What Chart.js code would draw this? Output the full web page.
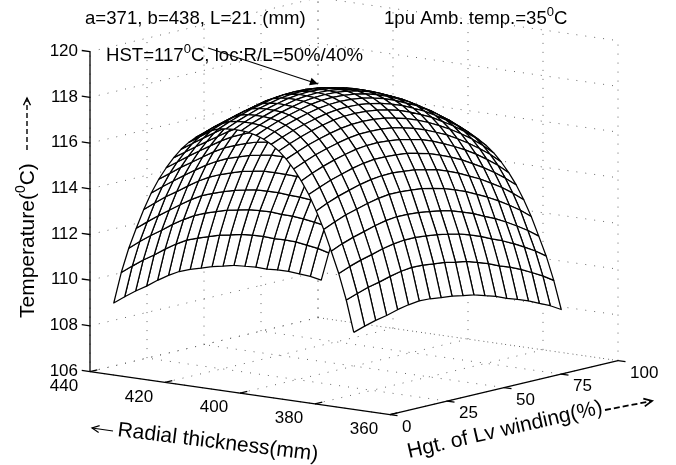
<!DOCTYPE html>
<html><head><meta charset="utf-8">
<style>html,body{margin:0;padding:0;background:#fff}canvas{display:block}</style>
<script src="https://cdn.jsdelivr.net/npm/chart.js@4/dist/chart.umd.js"></script>
</head><body><canvas id="c" width="676" height="465"></canvas>
<script>
// Axis ticks
const radialTicks=[440,420,400,380,360];
const heightTicks=[0,25,50,75,100];
const tempTicks=[106,108,110,112,114,116,118,120];
// Mesh coordinates
const radialGrid=[372.4,374.4,376.4,378.4,380.4,382.4,384.4,386.4,388.4,390.4,392.4,394.4,396.4,398.4,400.4,402.4,404.4,406.4,408.4,410.4,412.4,414.4,416.4,418.4,420.4,422.4,424.4,426.4,428.4,430.4,432.4,434.4,436.4];
const heightGrid=[4.5,9.3,14.1,18.9,23.7,28.5,33.2,38,42.8,47.6,52.4,57.2,62,66.8,71.6,76.3,81.1,85.9,90.7,95.5];
// Temperature along radial thickness, one list per winding height
const t00=[109.20,110.57,111.68,112.61,113.51,114.28,114.95,115.50,115.97,116.36,116.67,116.91,117.09,117.21,117.29,117.32,117.33,117.31,117.26,117.14,116.98,116.76,116.48,116.14,115.72,115.23,114.68,114.03,113.26,112.39,111.47,110.36,108.98];
const t01=[109.36,110.74,111.88,112.82,113.73,114.50,115.16,115.72,116.18,116.56,116.87,117.11,117.30,117.42,117.50,117.53,117.54,117.52,117.46,117.33,117.15,116.91,116.62,116.27,115.84,115.37,114.82,114.19,113.43,112.56,111.65,110.53,109.14];
const t02=[109.50,110.90,112.04,112.99,113.92,114.69,115.35,115.91,116.37,116.75,117.05,117.29,117.47,117.60,117.68,117.71,117.72,117.70,117.63,117.49,117.29,117.06,116.75,116.39,115.97,115.50,114.97,114.33,113.59,112.71,111.80,110.68,109.28];
const t03=[109.60,111.01,112.17,113.13,114.06,114.84,115.50,116.07,116.52,116.90,117.21,117.44,117.63,117.76,117.84,117.87,117.88,117.86,117.79,117.64,117.43,117.19,116.88,116.51,116.08,115.62,115.08,114.46,113.70,112.84,111.92,110.79,109.38];
const t04=[109.74,111.15,112.31,113.27,114.20,114.98,115.64,116.20,116.65,117.03,117.34,117.57,117.76,117.89,117.97,118.00,118.01,117.98,117.91,117.76,117.55,117.30,116.99,116.62,116.19,115.73,115.20,114.58,113.83,112.97,112.06,110.93,109.52];
const t05=[109.84,111.26,112.41,113.38,114.31,115.08,115.75,116.31,116.76,117.14,117.45,117.68,117.87,118.00,118.08,118.11,118.12,118.09,118.02,117.87,117.66,117.41,117.10,116.73,116.30,115.84,115.31,114.68,113.94,113.08,112.16,111.04,109.62];
const t06=[109.90,111.32,112.47,113.44,114.37,115.14,115.81,116.37,116.82,117.20,117.51,117.74,117.93,118.06,118.14,118.17,118.18,118.15,118.08,117.93,117.72,117.47,117.16,116.79,116.36,115.90,115.37,114.74,114.00,113.14,112.22,111.10,109.68];
const t07=[109.88,111.30,112.47,113.43,114.37,115.15,115.81,116.38,116.83,117.22,117.52,117.76,117.95,118.08,118.16,118.19,118.20,118.17,118.10,117.95,117.74,117.49,117.17,116.81,116.37,115.91,115.37,114.75,114.00,113.13,112.22,111.08,109.66];
const t08=[109.82,111.25,112.42,113.39,114.33,115.11,115.78,116.35,116.81,117.19,117.50,117.74,117.93,118.06,118.14,118.17,118.18,118.15,118.08,117.93,117.72,117.47,117.15,116.78,116.35,115.89,115.34,114.71,113.96,113.09,112.17,111.03,109.60];
const t09=[109.77,111.20,112.37,113.33,114.28,115.06,115.73,116.29,116.75,117.13,117.44,117.68,117.87,118.00,118.08,118.11,118.12,118.09,118.02,117.87,117.66,117.41,117.09,116.72,116.29,115.83,115.29,114.66,113.91,113.03,112.12,110.98,109.55];
const t10=[109.68,111.10,112.27,113.24,114.18,114.95,115.62,116.18,116.64,117.02,117.33,117.57,117.76,117.89,117.97,118.00,118.01,117.98,117.91,117.76,117.55,117.30,116.98,116.61,116.18,115.72,115.18,114.55,113.81,112.94,112.02,110.88,109.46];
const t11=[109.60,111.01,112.17,113.13,114.06,114.84,115.50,116.06,116.51,116.89,117.20,117.43,117.62,117.75,117.83,117.86,117.87,117.84,117.77,117.62,117.41,117.16,116.85,116.48,116.05,115.59,115.06,114.44,113.69,112.83,111.92,110.79,109.38];
const t12=[109.45,110.86,112.01,112.96,113.89,114.66,115.32,115.88,116.33,116.71,117.01,117.25,117.43,117.56,117.64,117.67,117.68,117.65,117.58,117.43,117.22,116.98,116.66,116.30,115.87,115.41,114.88,114.26,113.52,112.66,111.76,110.64,109.23];
const t13=[109.30,110.69,111.84,112.78,113.70,114.46,115.12,115.66,116.11,116.49,116.79,117.02,117.20,117.33,117.41,117.44,117.45,117.42,117.35,117.20,116.99,116.75,116.44,116.08,115.65,115.20,114.68,114.06,113.33,112.48,111.59,110.47,109.08];
const t14=[109.10,110.48,111.61,112.55,113.47,114.22,114.88,115.42,115.88,116.24,116.55,116.78,116.97,117.09,117.17,117.20,117.21,117.18,117.12,116.97,116.78,116.53,116.23,115.87,115.46,114.99,114.47,113.85,113.12,112.26,111.37,110.26,108.88];
const t15=[108.95,110.31,111.42,112.34,113.23,113.98,114.61,115.16,115.60,115.97,116.26,116.49,116.67,116.79,116.87,116.90,116.91,116.89,116.82,116.68,116.49,116.26,115.96,115.61,115.20,114.75,114.23,113.62,112.90,112.06,111.18,110.09,108.73];
const t16=[108.77,110.10,111.18,112.08,112.96,113.69,114.32,114.86,115.29,115.66,115.95,116.17,116.35,116.47,116.54,116.57,116.58,116.56,116.50,116.37,116.19,115.97,115.68,115.34,114.93,114.49,113.97,113.37,112.65,111.82,110.95,109.89,108.55];
const t17=[108.55,109.85,110.91,111.79,112.65,113.38,113.99,114.52,114.95,115.32,115.60,115.82,115.99,116.11,116.18,116.21,116.22,116.20,116.15,116.03,115.85,115.64,115.36,115.04,114.63,114.19,113.68,113.08,112.37,111.54,110.69,109.64,108.33];
const t18=[108.33,109.59,110.63,111.48,112.32,113.02,113.63,114.15,114.57,114.92,115.21,115.42,115.59,115.70,115.77,115.80,115.81,115.79,115.74,115.63,115.47,115.27,115.00,114.68,114.29,113.86,113.35,112.76,112.06,111.25,110.42,109.38,108.11];
const t19=[108.05,109.28,110.29,111.12,111.93,112.62,113.22,113.71,114.13,114.48,114.76,114.97,115.13,115.25,115.31,115.34,115.35,115.33,115.28,115.18,115.02,114.82,114.57,114.26,113.87,113.44,112.95,112.37,111.68,110.89,110.08,109.07,107.83];
const surface=[t00,t01,t02,t03,t04,t05,t06,t07,t08,t09,t10,t11,t12,t13,t14,t15,t16,t17,t18,t19];

// Orthographic view of the 3-D box onto the flat chart scales
const project=(r,h,t)=>({
  x:390-3.75*(r-360)+2.28*h,
  y:414.6-0.5375*(r-360)-0.54*h-22.85*(t-106)
});
const depth=(r,h,t)=>-0.0125*r/80-0.01645*h/100+0.00446*t/14;

const line=(pts,extra)=>Object.assign({showLine:true,pointRadius:0,pointHoverRadius:0,tension:0,
  borderColor:'#000',borderWidth:1.2,fill:false,data:pts},extra);

const datasets=[];
// Surface: nearest cell first, because Chart.js paints the first dataset last
const cells=[];
for(let j=0;j<heightGrid.length-1;j++){
  for(let i=0;i<radialGrid.length-1;i++){
    const c=[[i,j],[i+1,j],[i+1,j+1],[i,j+1],[i,j]].map(([a,b])=>[radialGrid[a],heightGrid[b],surface[b][a]]);
    const d=c.slice(0,4).reduce((s,p)=>s+depth(p[0],p[1],p[2]),0)/4;
    cells.push({d,pts:c.map(p=>project(p[0],p[1],p[2]))});
  }
}
cells.sort((a,b)=>b.d-a.d);
cells.forEach(c=>datasets.push(line(c.pts,{isCell:true,borderWidth:1.25,borderJoinStyle:'round'})));

// Axis lines and ticks
const rMin=360,rMax=440,hMin=0,hMax=100,tMin=106,tMax=120;
const axisStyle={borderWidth:1.3};
datasets.push(line([project(rMax,hMin,tMin),project(rMax,hMin,tMax)],axisStyle));
datasets.push(line([project(rMax,hMin,tMin),project(rMin,hMin,tMin)],axisStyle));
datasets.push(line([project(rMin,hMin,tMin),project(rMin,hMax,tMin)],axisStyle));
tempTicks.forEach(t=>datasets.push(line([project(rMax,hMin,t),project(rMax+2.2,hMin,t)],axisStyle)));
radialTicks.forEach(r=>datasets.push(line([project(r,hMin,tMin),project(r,hMin+3.2,tMin)],axisStyle)));
heightTicks.forEach(h=>datasets.push(line([project(rMin,h,tMin),project(rMin-2,h,tMin)],axisStyle)));

// Dotted box grid
const dot={borderColor:'#666',borderWidth:1,borderDash:[1,8]};
radialTicks.forEach(r=>{
  datasets.push(line([project(r,hMin,tMin),project(r,hMax,tMin)],dot));
  datasets.push(line([project(r,hMax,tMin),project(r,hMax,tMax)],dot));
});
heightTicks.forEach(h=>{
  datasets.push(line([project(rMin,h,tMin),project(rMax,h,tMin)],dot));
  datasets.push(line([project(rMax,h,tMin),project(rMax,h,tMax)],dot));
});
tempTicks.forEach(t=>{
  datasets.push(line([project(rMax,hMin,t),project(rMax,hMax,t)],dot));
  datasets.push(line([project(rMax,hMax,t),project(rMin,hMax,t)],dot));
});

const FONT='"Liberation Sans", Arial, sans-serif';
function arrowHead(ctx,x0,y0,x1,y1,size,solid){
  const a=Math.atan2(y1-y0,x1-x0);
  ctx.beginPath();
  ctx.moveTo(x1-size*Math.cos(a-0.45),y1-size*Math.sin(a-0.45));
  ctx.lineTo(x1,y1);
  ctx.lineTo(x1-size*Math.cos(a+0.45),y1-size*Math.sin(a+0.45));
  if(solid){ctx.closePath();ctx.fill();}else ctx.stroke();
}
function arrow(ctx,x0,y0,x1,y1,size,width,dash,solid){
  ctx.save();ctx.strokeStyle='#000';ctx.fillStyle='#000';ctx.lineWidth=width;
  ctx.setLineDash(dash||[]);
  ctx.beginPath();ctx.moveTo(x0,y0);ctx.lineTo(x1,y1);ctx.stroke();
  ctx.setLineDash([]);arrowHead(ctx,x0,y0,x1,y1,size,solid);ctx.restore();
}
// Text runs with a raised degree mark
function runs(ctx,x,y,parts,size){
  let cx=x;
  parts.forEach(p=>{
    const sup=p[0]==='^';const s=sup?p.slice(1):p;
    ctx.font=(sup?Math.round(size*0.68):size)+'px '+FONT;
    ctx.fillText(s,cx,sup?y-size*0.42:y);
    cx+=ctx.measureText(s).width;
  });
}
const cellFill={id:'cellFill',beforeDatasetDraw(chart,args){
  const ds=chart.data.datasets[args.index];
  if(!ds.isCell)return;
  const ctx=chart.ctx,pts=args.meta.data;
  ctx.save();ctx.fillStyle='#fff';ctx.beginPath();
  pts.forEach((p,i)=>i?ctx.lineTo(p.x,p.y):ctx.moveTo(p.x,p.y));
  ctx.closePath();ctx.fill();ctx.restore();
}};
const labels={id:'labels',afterDraw(chart){
  const ctx=chart.ctx;ctx.save();ctx.fillStyle='#000';
  const S=17,T=18.6,big=21;
  ctx.font=S+'px '+FONT;ctx.textBaseline='middle';
  ctx.textAlign='right';
  tempTicks.forEach(t=>{const p=project(rMax,hMin,t);ctx.fillText(String(t),78,p.y-0.5);});
  ctx.textAlign='center';
  radialTicks.forEach(r=>{const p=project(r,hMin,tMin);ctx.fillText(String(r),p.x-26,p.y+14.5);});
  ctx.textAlign='left';
  heightTicks.forEach(h=>{const p=project(rMin,h,tMin);ctx.fillText(String(h),p.x+12,p.y+12.5);});
  ctx.textBaseline='alphabetic';
  runs(ctx,85,24,['a=371, b=438, L=21. (mm)'],T);
  runs(ctx,384,24,['1pu Amb. temp.=35','^0','C'],T);
  runs(ctx,106,60.5,['HST=117','^0','C, loc:R/L=50%/40%'],T);
  ctx.save();ctx.translate(34,318);ctx.rotate(-Math.PI/2);runs(ctx,0,0,['Temperature(','^0','C)'],big);ctx.restore();
  ctx.save();ctx.translate(117,436);ctx.rotate(7*Math.PI/180);runs(ctx,0,0,['Radial thickness(mm)'],big);ctx.restore();
  ctx.save();ctx.translate(409,458);ctx.rotate(-13*Math.PI/180);runs(ctx,0,0,['Hgt. of Lv winding(%)'],big);ctx.restore();
  arrow(ctx,208,48,318,84,9,1.1,null,true);
  arrow(ctx,27,150,27,98,8,1.4,[5,3],false);
  arrow(ctx,113,431,92,428,8,1.2,null,false);
  arrow(ctx,605,410,652,401,9,1.8,[6,3],false);
  ctx.restore();
}};
new Chart(document.getElementById('c'),{
  type:'scatter',
  data:{datasets},
  plugins:[cellFill,labels],
  options:{
    responsive:false,animation:false,events:[],clip:false,
    layout:{padding:0},
    plugins:{legend:{display:false},tooltip:{enabled:false},title:{display:false}},
    scales:{
      x:{type:'linear',display:false,min:0,max:676},
      y:{type:'linear',display:false,min:0,max:465,reverse:true}
    }
  }
});
</script></body></html>
